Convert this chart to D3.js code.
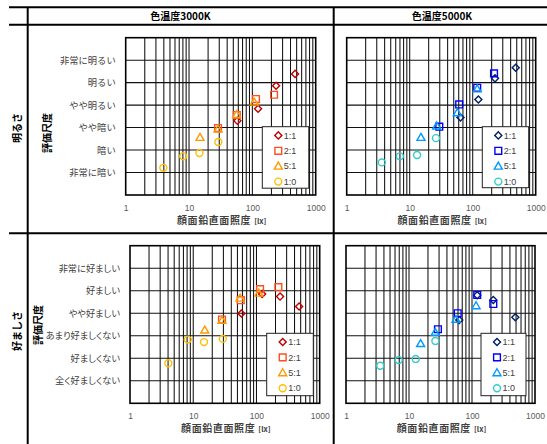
<!DOCTYPE html>
<html><head><meta charset="utf-8">
<script src="https://cdn.jsdelivr.net/npm/d3@7"></script>
<style>
html,body{margin:0;padding:0;background:#fff;}
svg{display:block;font-family:"Noto Sans CJK JP","Noto Sans",sans-serif;}
.jp{font-feature-settings:"palt";}
</style></head>
<body>
<svg id="chart" width="547" height="444"></svg>
<script>
// ---- data ----
const ratios = ["1:1", "2:1", "5:1", "1:0"];
const temps = ["色温度3000K", "色温度5000K"];
const rowNames = ["明るさ", "好ましさ"];
const yTitle = "評価尺度";
const xTitle = "顔面鉛直面照度";
const xUnit = "[lx]";
const xTicks = [1, 10, 100, 1000];
const brightLabels = ["非常に暗い", "暗い", "やや暗い", "やや明るい", "明るい", "非常に明るい"];
const prefLabels = ["全く好ましくない", "好ましくない", "あまり好ましくない", "やや好ましい", "好ましい", "非常に好ましい"];

// brightness, 3000K  [illuminance lx, rating]
const b3000_11 = [[58, 3.30], [123, 3.84], [237, 4.86], [472, 5.39]];
const b3000_21 = [[28.7, 2.98], [56.7, 3.56], [114, 4.27], [220, 4.46]];
const b3000_51 = [[14.9, 2.56], [28.7, 2.93], [56.7, 3.58], [107, 4.13]];
const b3000_10 = [[3.93, 1.21], [8.1, 1.72], [14.6, 1.87], [29, 2.36]];
// brightness, 5000K
const b5000_11 = [[64, 3.45], [123, 4.25], [226, 5.19], [482, 5.66]];
const b5000_21 = [[29.5, 3.04], [61, 4.03], [118, 4.77], [218, 5.41]];
const b5000_51 = [[15.1, 2.56], [26.8, 3.07], [57, 3.66], [118, 4.72]];
const b5000_10 = [[3.6, 1.45], [7.0, 1.72], [13.1, 1.78], [26.1, 2.53]];
// preference, 3000K
const p3000_11 = [[57.7, 3.99], [123, 4.86], [236, 4.74], [472, 4.30]];
const p3000_21 = [[28.5, 3.72], [56.5, 4.58], [114, 5.07], [222, 5.16]];
const p3000_51 = [[15.2, 3.25], [28.5, 3.68], [55, 4.67], [109, 4.89]];
const p3000_10 = [[4.04, 1.78], [8.2, 2.83], [14.8, 2.72], [29.3, 2.86]];
// preference, 5000K
const p5000_11 = [[62.8, 3.70], [121, 4.80], [218, 4.59], [487, 3.82]];
const p5000_21 = [[28.8, 3.29], [59.3, 4.00], [121, 4.81], [218, 4.41]];
const p5000_51 = [[15.3, 2.65], [26.1, 3.15], [55.7, 3.73], [116, 4.33]];
const p5000_10 = [[3.5, 1.67], [6.86, 1.92], [12.8, 1.97], [26.2, 2.77]];

const warmColors = ["#C00000", "#FF4F1F", "#FF9900", "#FFC000"];
const coolColors = ["#002060", "#0000FF", "#0099FF", "#33CCCC"];

// ---- layout ----
const svg = d3.select("#chart");
const panels = [
  {l:125.7, r:315.7, t:37.7, b:195, series:[b3000_11,b3000_21,b3000_51,b3000_10], colors:warmColors, yl:brightLabels, ys:9.3, palt:false, leg:{x:262.3,y:126.7,w:46.5,h:61.5}},
  {l:346.7, r:535.7, t:37.7, b:195, series:[b5000_11,b5000_21,b5000_51,b5000_10], colors:coolColors, yl:null, leg:{x:482.3,y:126.7,w:46.4,h:61}},
  {l:130, r:319.7, t:245.7, b:403.3, series:[p3000_11,p3000_21,p3000_51,p3000_10], colors:warmColors, yl:prefLabels, ys:9.2, palt:true, leg:{x:266.7,y:333.3,w:46.6,h:62.4}},
  {l:346, r:535, t:245.7, b:403.3, series:[p5000_11,p5000_21,p5000_51,p5000_10], colors:coolColors, yl:null, leg:{x:481,y:333.3,w:45,h:62.4}}
];

// table frame
const frame = svg.append("g").attr("stroke", "#000").attr("stroke-width", 2);
frame.append("line").attr("x1", 9).attr("x2", 547).attr("y1", 7.3).attr("y2", 7.3);
frame.append("line").attr("x1", 9).attr("x2", 547).attr("y1", 24.7).attr("y2", 24.7);
frame.append("line").attr("x1", 9).attr("x2", 547).attr("y1", 233.3).attr("y2", 233.3);
frame.append("line").attr("x1", 27.7).attr("x2", 27.7).attr("y1", 7.3).attr("y2", 444);
frame.append("line").attr("x1", 333.7).attr("x2", 333.7).attr("y1", 7.3).attr("y2", 444);

// headers
[180.5, 442].forEach((cx, i) => {
  svg.append("text").attr("x", cx).attr("y", 19.8).attr("text-anchor", "middle")
    .attr("font-size", 10).attr("font-weight", "bold").attr("fill", "#000").text(temps[i]);
});
// row labels
[[17.5, 128], [17.5, 331]].forEach((p, i) => {
  svg.append("text").attr("transform", `translate(${p[0]},${p[1]}) rotate(-90)`)
    .attr("text-anchor", "middle").attr("dy", "0.35em")
    .attr("font-size", 10).attr("font-weight", "bold").text(rowNames[i]);
});
[[47.5, 133], [38.5, 325]].forEach(p => {
  svg.append("text").attr("transform", `translate(${p[0]},${p[1]}) rotate(-90)`)
    .attr("text-anchor", "middle").attr("dy", "0.35em")
    .attr("font-size", 10).attr("font-weight", "bold").text(yTitle);
});

function symPath(k) {
  if (k === 0) return d3.symbol(d3.symbolSquare, 25)();
  if (k === 1) return d3.symbol(d3.symbolSquare, 46)();
  if (k === 2) return d3.symbol(d3.symbolTriangle, 28)();
  return d3.symbol(d3.symbolCircle, 38)();
}
function symTransform(k, x, y) {
  if (k === 0) return `translate(${x},${y}) rotate(45)`;
  if (k === 2) return `translate(${x},${y + 0.6})`;
  return `translate(${x},${y})`;
}

panels.forEach(p => {
  const x = d3.scaleLog().domain([1, 1000]).range([p.l, p.r]);
  const y = d3.scaleLinear().domain([0, 7]).range([p.b, p.t]);
  const g = svg.append("g");

  // grid
  const vlines = x.ticks().filter(v => v > 1 && v < 1000);
  g.append("g").selectAll("line").data(vlines).join("line")
    .attr("x1", d => x(d)).attr("x2", d => x(d)).attr("y1", p.t).attr("y2", p.b)
    .attr("stroke", "#111").attr("stroke-width", 1.05);
  g.append("g").selectAll("line").data([1, 2, 3, 4, 5, 6]).join("line")
    .attr("x1", p.l).attr("x2", p.r).attr("y1", d => y(d)).attr("y2", d => y(d))
    .attr("stroke", "#111").attr("stroke-width", 1.05);
  g.append("rect").attr("x", p.l).attr("y", p.t).attr("width", p.r - p.l).attr("height", p.b - p.t)
    .attr("fill", "none").attr("stroke", "#000").attr("stroke-width", 1.6);

  // x axis
  const xa = g.append("g").attr("transform", `translate(0,${p.b})`)
    .call(d3.axisBottom(x).tickValues(xTicks).tickFormat(d3.format("d")).tickSize(0).tickPadding(10));
  xa.select(".domain").remove();
  xa.selectAll("text").attr("font-size", 8.5).attr("fill", "#595959")
    .attr("font-family", "'Liberation Sans', Arial, sans-serif");

  // x title
  const tt = g.append("text").attr("x", (p.l + p.r) / 2 + 1).attr("y", p.b + 28.5)
    .attr("text-anchor", "middle").attr("font-weight", "bold").attr("fill", "#404040");
  tt.append("tspan").attr("font-size", 10).attr("letter-spacing", 0.6).text(xTitle);
  tt.append("tspan").attr("font-size", 7.5).attr("dx", 3).text(xUnit);

  // y axis labels
  if (p.yl) {
    const ya = g.append("g").attr("transform", `translate(${p.l},0)`)
      .call(d3.axisLeft(y).tickValues([1, 2, 3, 4, 5, 6]).tickFormat(d => p.yl[d - 1]).tickSize(0).tickPadding(10));
    ya.select(".domain").remove();
    ya.attr("font-family", null);
    ya.selectAll("text").classed("jp", p.palt).attr("font-size", p.ys).attr("fill", "#404040");
  }

  // points
  p.series.forEach((s, k) => {
    g.append("g").selectAll("path").data(s).join("path")
      .attr("d", symPath(k))
      .attr("transform", d => symTransform(k, x(d[0]), y(d[1])))
      .attr("fill", "none").attr("stroke", p.colors[k]).attr("stroke-width", 1.4);
  });

  // legend
  const L = p.leg;
  const lg = g.append("g");
  lg.append("rect").attr("x", L.x).attr("y", L.y).attr("width", L.w).attr("height", L.h)
    .attr("fill", "#fff").attr("stroke", "#222").attr("stroke-width", 1);
  ratios.forEach((r, k) => {
    const cy = L.y + 8.7 + k * 15.4;
    lg.append("path").attr("d", symPath(k)).attr("transform", symTransform(k, L.x + 16, cy))
      .attr("fill", "none").attr("stroke", p.colors[k]).attr("stroke-width", 1.4);
    lg.append("text").attr("x", L.x + 21.5).attr("y", cy).attr("dy", "0.35em")
      .attr("font-size", 9).attr("fill", "#404040")
      .attr("font-family", "'Liberation Sans', Arial, sans-serif").text(r);
  });
});
</script>
</body></html>
